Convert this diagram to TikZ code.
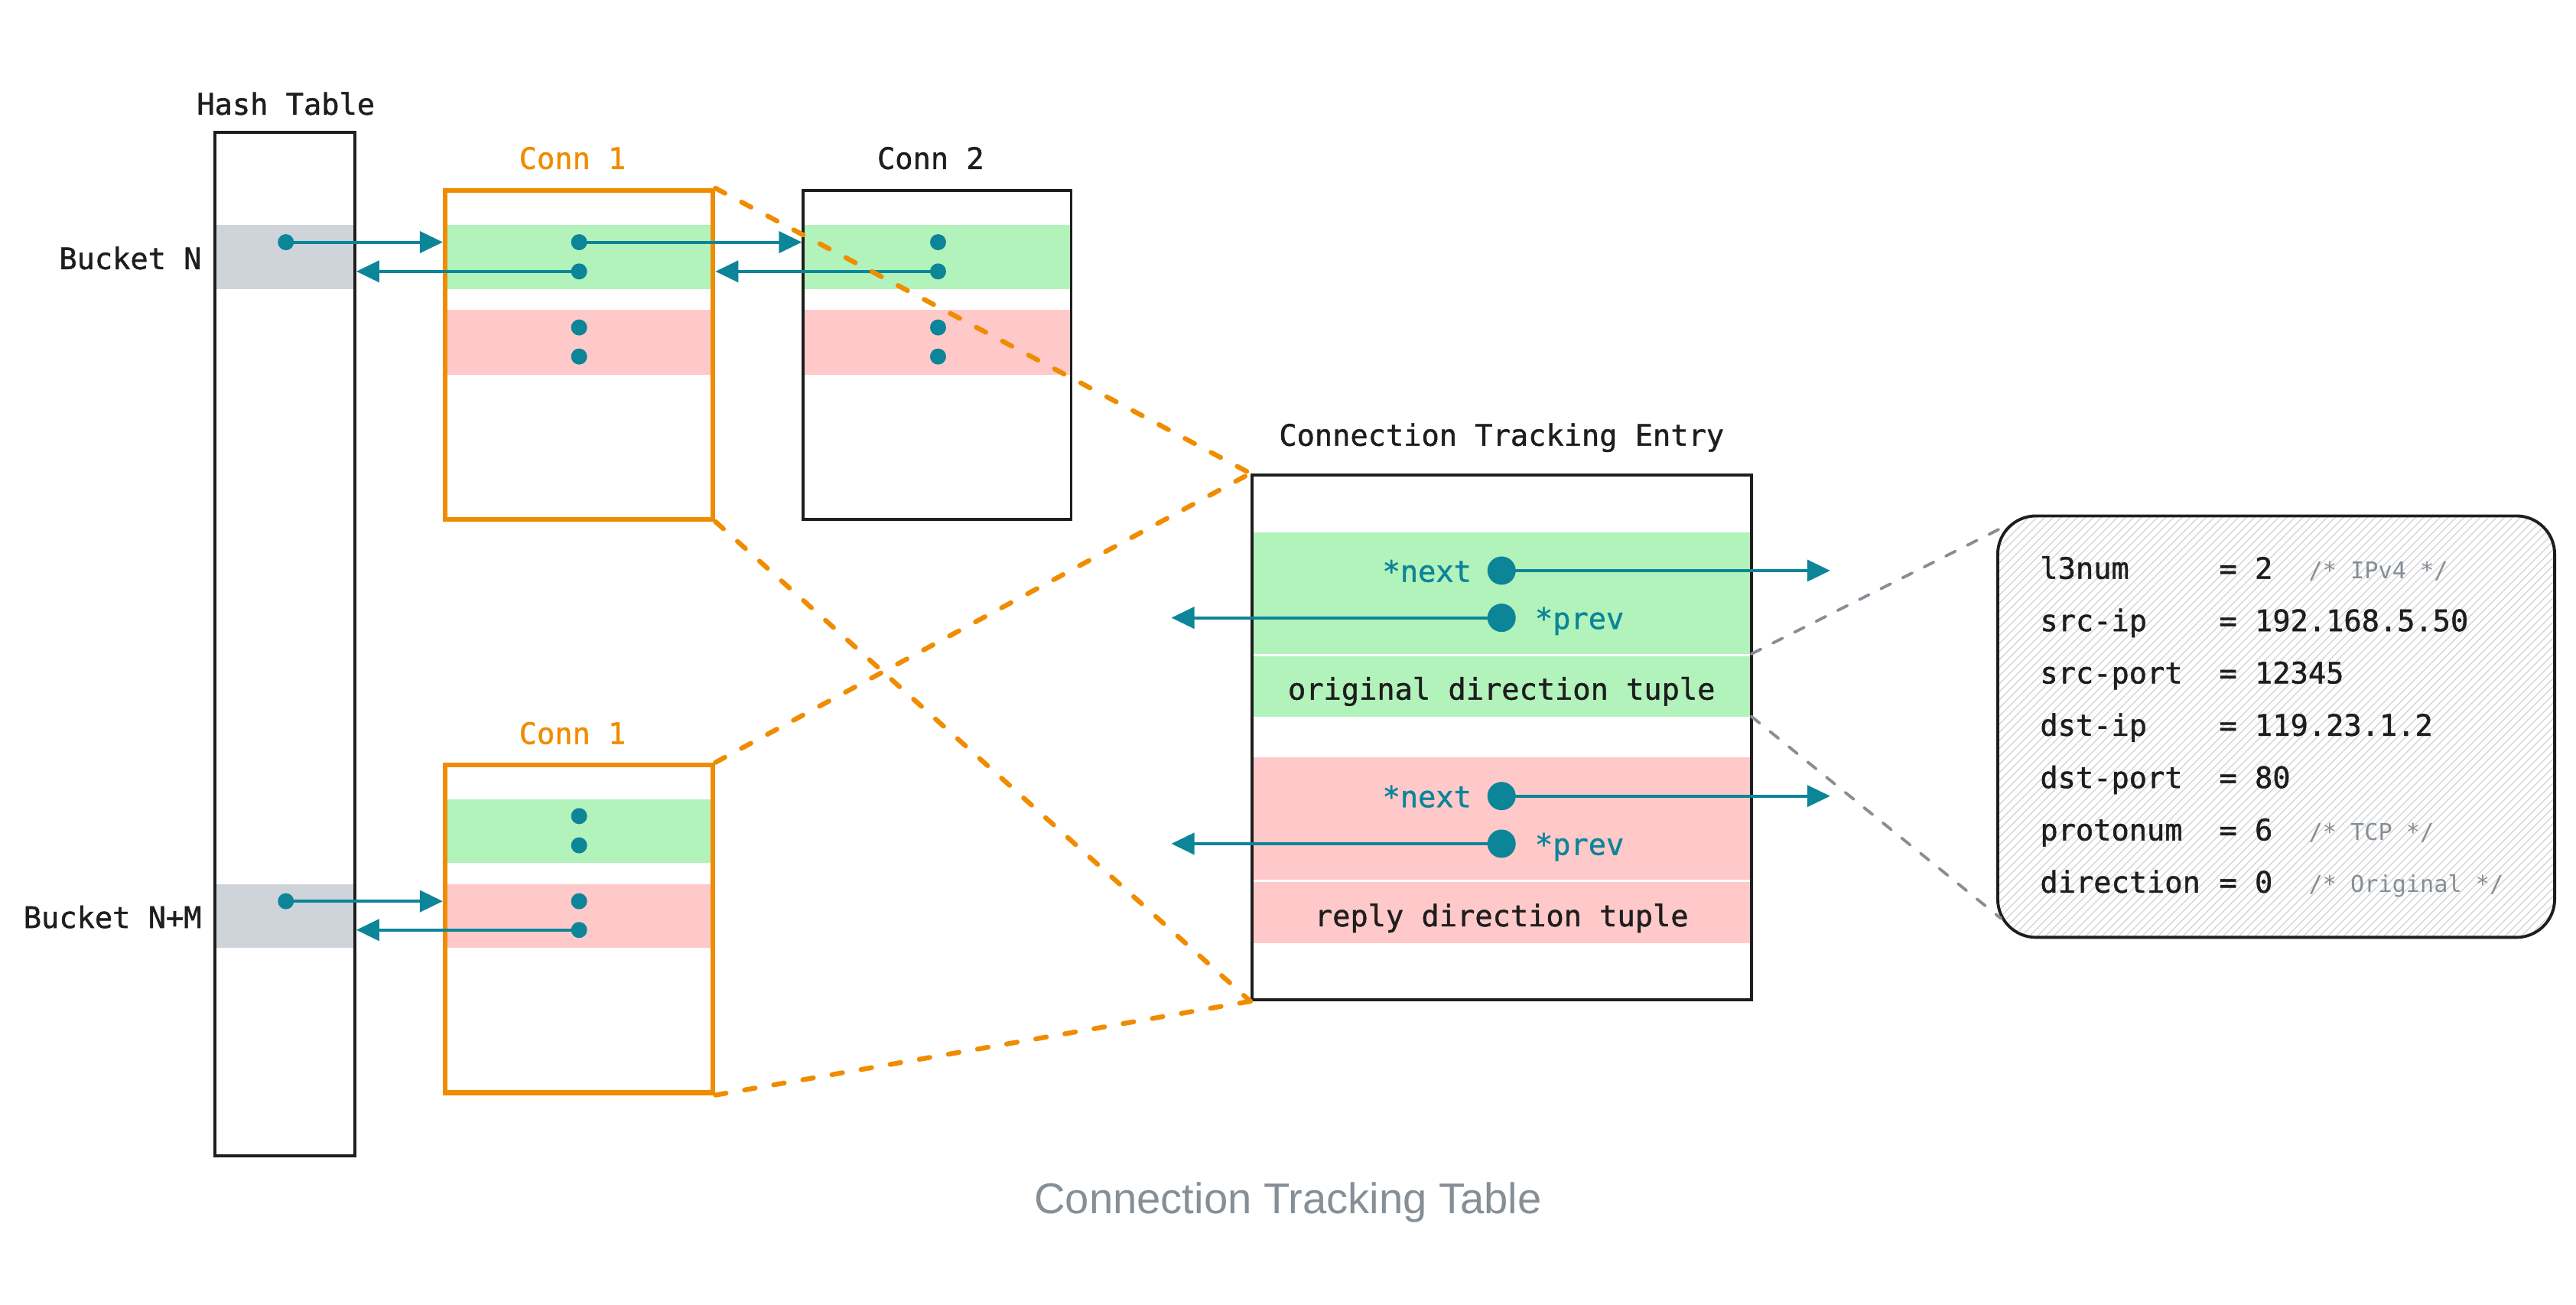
\documentclass[tikz,border=0pt]{standalone}
\usepackage{fontspec}
\setmonofont{DejaVu Sans Mono}
\newfontfamily\labelmono[FakeBold=1.2]{DejaVu Sans Mono}
\newfontfamily\captionfont{Liberation Sans}
\usetikzlibrary{fit, arrows.meta, patterns}

\definecolor{inkblack}{HTML}{1E1E1E}
\definecolor{selorange}{HTML}{F08C00}
\definecolor{bandgreen}{HTML}{B2F2BB}
\definecolor{bandred}{HTML}{FFC9C9}
\definecolor{bandgray}{HTML}{CED4DA}
\definecolor{ptrteal}{HTML}{0C8599}
\definecolor{notegray}{HTML}{868E96}
\definecolor{hatchgray}{HTML}{D6D6D6}

\tikzset{
  frame/.style={draw=inkblack, line width=1.1pt, inner sep=0pt},
  selframe/.style={draw=selorange, line width=1.8pt, inner sep=0pt},
  band/.style={inner sep=0pt, outer sep=0pt},
  pin/.style={circle, fill=ptrteal, inner sep=0pt, minimum size=2.1mm},
  bigpin/.style={pin, minimum size=3.7mm},
  ptr/.style={draw=ptrteal, line width=1.1pt, -{Triangle[length=3mm,width=2.8mm]}},
  mono/.style={font=\labelmono\fontsize{11}{13}\selectfont, text=inkblack, inner sep=0pt, text height=8.3pt, text depth=0pt},
  note/.style={font=\ttfamily\fontsize{8.6}{10}\selectfont, text=notegray, inner sep=0pt},
  zoomline/.style={draw=selorange, line width=1.8pt, dash pattern=on 4pt off 7pt, line cap=round},
  calloutline/.style={draw=notegray, line width=1.1pt, dash pattern=on 4pt off 5pt, line cap=round},
  tuplebox/.style={draw=inkblack, line width=1.1pt, rounded corners=0.5cm, inner sep=0pt, pattern=north east lines, pattern color=hatchgray}
}

\begin{document}
\begin{tikzpicture}[x=0.02148cm, y=-0.02148cm]
  \useasboundingbox (0,0) rectangle (1568,794);

  % Hash table
  \node[band, fill=bandgray, fit={(131,137) (216,176)}] (bkN) {};
  \node[band, fill=bandgray, fit={(131,538) (216,577)}] (bkNM) {};
  \node[frame, fit={(131,80.5) (216,703.5)}] (hash) {};
  \node[mono] (hashlbl) at (174,63) {Hash Table};
  \node[mono, anchor=east] (bkNlbl) at (123,157) {Bucket N};
  \node[mono, anchor=east] (bkNMlbl) at (123,558) {Bucket N+M};

  % Conn 1 (top)
  \node[band, fill=bandgreen, fit={(271,137) (434,176)}] (c1g) {};
  \node[band, fill=bandred, fit={(271,188.5) (434,228)}] (c1r) {};
  \node[selframe, fit={(271,116) (434,316)}] (c1) {};
  \node[mono, text=selorange] (c1lbl) at (348.5,96) {Conn 1};

  % Conn 2
  \node[band, fill=bandgreen, fit={(489,137) (652,176)}] (c2g) {};
  \node[band, fill=bandred, fit={(489,188.5) (652,228)}] (c2r) {};
  \node[frame, fit={(489,116) (652,316)}] (c2) {};
  \node[mono] (c2lbl) at (566.5,96) {Conn 2};

  % Conn 1 (bottom)
  \node[band, fill=bandgreen, fit={(271,486.5) (434,525)}] (d1g) {};
  \node[band, fill=bandred, fit={(271,538) (434,577)}] (d1r) {};
  \node[selframe, fit={(271,465.5) (434,665)}] (d1) {};
  \node[mono, text=selorange] (d1lbl) at (348.5,446) {Conn 1};

  % pointer dots
  \node[pin] (hN) at (174,147.4) {};
  \node[pin] (hNM) at (174,548.5) {};
  \node[pin] (c1a) at (352.5,147.4) {};
  \node[pin] (c1b) at (352.5,165.2) {};
  \node[pin] (c1c) at (352.5,199.3) {};
  \node[pin] (c1d) at (352.5,217) {};
  \node[pin] (c2a) at (571,147.4) {};
  \node[pin] (c2b) at (571,165.2) {};
  \node[pin] (c2c) at (571,199.3) {};
  \node[pin] (c2d) at (571,217) {};
  \node[pin] (d1a) at (352.5,496.7) {};
  \node[pin] (d1b) at (352.5,514.5) {};
  \node[pin] (d1c) at (352.5,548.5) {};
  \node[pin] (d1d) at (352.5,566) {};

  % list links
  \draw[ptr] (hN.center) -- (hN -| c1.west);
  \draw[ptr] (c1b.center) -- (c1b -| hash.east);
  \draw[ptr] (c1a.center) -- (c1a -| c2.west);
  \draw[ptr] (c2b.center) -- (c2b -| c1.east);
  \draw[ptr] (hNM.center) -- (hNM -| d1.west);
  \draw[ptr] (d1d.center) -- (d1d -| hash.east);

  % Connection tracking entry
  \node[band, fill=bandgreen, fit={(762,324) (1066,398)}] (eg1) {};
  \node[band, fill=bandgreen, fit={(762,399.3) (1066,436)}] (eg2) {};
  \node[band, fill=bandred, fit={(762,461) (1066,535.5)}] (er1) {};
  \node[band, fill=bandred, fit={(762,536.8) (1066,574)}] (er2) {};
  \node[frame, fit={(762,289) (1066,608.5)}] (entry) {};
  \node[mono] (entrylbl) at (914,264.5) {Connection Tracking Entry};
  \node[mono] (origlbl) at (914,419) {original direction tuple};
  \node[mono] (replylbl) at (914,557) {reply direction tuple};

  \node[bigpin] (on1) at (914,347.3) {};
  \node[bigpin] (op1) at (914,376) {};
  \node[bigpin] (on2) at (914,484.5) {};
  \node[bigpin] (op2) at (914,513.5) {};
  \node[mono, text=ptrteal, anchor=east] (on1lbl) at (896,347.3) {*next};
  \node[mono, text=ptrteal, anchor=west] (op1lbl) at (934,376) {*prev};
  \node[mono, text=ptrteal, anchor=east] (on2lbl) at (896,484.5) {*next};
  \node[mono, text=ptrteal, anchor=west] (op2lbl) at (934,513.5) {*prev};

  \coordinate (nxt1) at (1114,347.3);
  \coordinate (prv1) at (713,376);
  \coordinate (nxt2) at (1114,484.5);
  \coordinate (prv2) at (713,513.5);
  \draw[ptr] (on1.center) -- (nxt1);
  \draw[ptr] (op1.center) -- (prv1);
  \draw[ptr] (on2.center) -- (nxt2);
  \draw[ptr] (op2.center) -- (prv2);

  % Tuple detail
  \node[tuplebox, fit={(1216,314) (1555,570.5)}] (tup) {};
  \coordinate (tupin) at (1223,319);
  \coordinate (tupout) at (1218,559);
  \draw[calloutline] (eg1.south east) -- (tupin);
  \draw[calloutline] (eg2.south east) -- (tupout);

  \foreach \key/\val [count=\i] in {l3num/2, src-ip/192.168.5.50, src-port/12345, dst-ip/119.23.1.2, dst-port/80, protonum/6, direction/0} {
    \node[mono, anchor=west] (key\i) at (1241.5,{345.5+31.83*(\i-1)}) {\key};
    \node[mono, anchor=west] (val\i) at (1350.5,{345.5+31.83*(\i-1)}) {= \val};
  }
  \coordinate (notecol) at (1405,0);
  \node[note, anchor=base west] (note1) at (key1.base -| notecol) {/* IPv4 */};
  \node[note, anchor=base west] (note6) at (key6.base -| notecol) {/* TCP */};
  \node[note, anchor=base west] (note7) at (key7.base -| notecol) {/* Original */};

  % zoom lines to the entry
  \draw[zoomline] (c1.north east) -- (entry.north west);
  \draw[zoomline] (c1.south east) -- (entry.south west);
  \draw[zoomline] (d1.north east) -- (entry.north west);
  \draw[zoomline] (d1.south east) -- (entry.south west);

  % Caption
  \node[font=\captionfont\fontsize{16}{19}\selectfont, text=notegray, anchor=base, inner sep=0pt] (caption) at (784,738.4) {Connection Tracking Table};
\end{tikzpicture}
\end{document}
